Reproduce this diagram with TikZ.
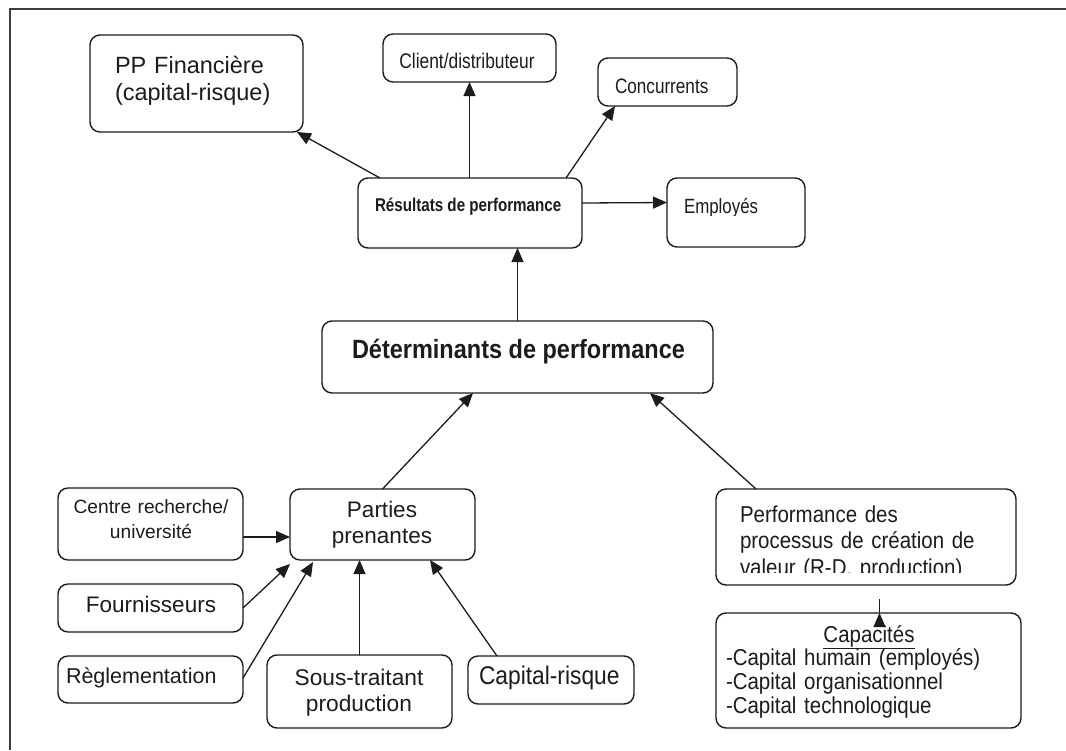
\documentclass[tikz,border=0pt]{standalone}
\usepackage{fontspec}
\setmainfont{Liberation Sans}
\newfontfamily\condfont{Liberation Sans}[FakeStretch=0.82]
\newfontfamily\medfont{Liberation Sans}[FakeStretch=0.89]
\usetikzlibrary{arrows.meta,calc}

\definecolor{ink}{HTML}{1C1C1C}

% rounded box spanning the corners (x1,y1) and (x2,y2), in pixel-like units
\newcommand\bx[5]{\node[box, minimum width={#4-#2}, minimum height={#5-#3}] (#1) at ({(#2+#4)/2},{(#3+#5)/2}) {};}
\newcommand\fs[2]{\fontsize{#1}{#2}\selectfont}

\tikzset{
  box/.style={draw=ink, line width=1.4pt, rounded corners=10pt, inner sep=0pt, outer sep=0pt},
  lbl/.style={inner sep=0pt, outer sep=0pt, text=ink},
  arr/.style={draw=ink, line width=1.3pt, -{Triangle[length=14pt,width=12pt]}},
  thinarr/.style={arr, line width=0.9pt},
  frame/.style={draw=ink!85, line width=1.5pt}
}

\begin{document}
\begin{tikzpicture}[x=1pt,y=-1pt]
\useasboundingbox (0,0) rectangle (1066,750);
\fill[white] (0,0) rectangle (1066,750);

% outer frame (top and left edges)
\coordinate (fa) at (1066,9);
\coordinate (fb) at (10,9);
\coordinate (fc) at (10,750);
\draw[frame] (fa) -- (fb) -- (fc);

% boxes
\bx{pp}{90}{35}{303}{132}
\bx{cl}{383}{34}{556}{82}
\bx{co}{598}{58}{737}{106}
\bx{re}{358}{178}{582}{248}
\bx{em}{667}{178}{805}{247}
\bx{de}{322}{321}{713}{393}
\bx{ce}{58}{488}{243}{560}
\bx{pa}{290}{489}{475}{560}
\bx{fo}{58}{584}{243}{632}
\bx{rg}{58}{656}{243}{703}
\bx{so}{267}{655}{452}{728}
\bx{cr}{468}{656}{634}{704}
\bx{pe}{716}{489}{1016}{585}
\bx{ca}{716}{613}{1021}{728}

% labels
\node[lbl, anchor=base west, text width=200pt, align=left, font=\fs{23.5}{27}] (tpp) at (115,73) {PP Financière\\(capital-risque)};
\node[lbl, anchor=base, font=\condfont\fs{21.2}{24}] (tcl) at (467,68) {Client/distributeur};
\node[lbl, anchor=base west, font=\condfont\fs{20.9}{24}] (tco) at (615,93) {Concurrents};
\node[lbl, anchor=base west, font=\condfont\bfseries\fs{18.5}{22}] (tre) at (375,211) {Résultats de performance};
\begin{scope}
  \clip (667,178) rectangle (805,215.5);
  \node[lbl, anchor=base west, font=\condfont\fs{20.6}{24}] (tem) at (684,213) {Employés};
\end{scope}
\node[lbl, anchor=base west, font=\medfont\bfseries\fs{26.4}{30}] (tde) at (352,358) {Déterminants de performance};
\node[lbl, anchor=base, text width=180pt, align=center, font=\fs{19.2}{25}] (tce) at (151,513) {Centre recherche/\\université};
\node[lbl, anchor=base, text width=180pt, align=center, font=\fs{22.5}{26.5}] (tpa) at (382,517) {Parties\\prenantes};
\node[lbl, anchor=base, font=\fs{22.5}{26}] (tfo) at (151,612) {Fournisseurs};
\node[lbl, anchor=base west, font=\fs{21.5}{26}] (trg) at (66,683) {Règlementation};
\node[lbl, anchor=base, text width=180pt, align=center, font=\fs{22.7}{26.7}] (tso) at (359,685) {Sous-traitant\\production};
\node[lbl, anchor=base west, font=\medfont\fs{25.6}{29}] (tcr) at (479,684) {Capital-risque};
\begin{scope}
  \clip (716,489) rectangle (1016,572);
  \node[lbl, anchor=base west, text width=290pt, align=left, font=\medfont\fs{23}{26.5}] (tpe) at (740,522) {Performance des\\processus de création de\\valeur (R-D, production)};
\end{scope}
\node[lbl, anchor=base, font=\medfont\fs{23}{24}] (tcah) at (869,642) {\underline{Capacités}};
\node[lbl, anchor=base west, text width=290pt, align=left, font=\medfont\fs{23}{24.3}] (tca) at (726,665) {-Capital humain (employés)\\-Capital organisationnel\\-Capital technologique};

% connectors from the performance results
\draw[arr] ($(re.north west)+(22,0)$) -- ($(pp.south east)+(-6,0)$);
\draw[thinarr] (re.north -| cl.south) -- (cl.south);
\draw[arr] ($(re.north east)+(-16,0)$) -- ($(co.south west)+(17,0)$);
\draw[arr] ($(re.east)+(0,-10)$) -- ($(em.west)+(0,-10)$);

% determinants feed the results
\draw[thinarr] (de.north) -- (de.north |- re.south);

% into the determinants
\draw[arr] (pa.north) -- ($(de.south west)+(151,0)$);
\draw[arr] ($(pe.north west)+(40,0)$) -- ($(de.south east)+(-63,0)$);
\draw[thinarr] ($(ca.north)+(11,0)$) -- ($(ca.north)+(11,0)$ |- pe.south);

% stakeholders
\draw[arr] ($(ce.east)+(0,13)$) -- ($(pa.west)+(0,12.5)$);
\draw[arr] (fo.east) -- ($(pa.south west)+(0,4)$);
\draw[arr] ($(rg.east)+(0,-1.5)$) -- ($(pa.south west)+(23,2)$);
\draw[thinarr] (so.north) -- (so.north |- pa.south);
\draw[arr] ($(cr.north west)+(29,0)$) -- ($(pa.south west)+(140,0)$);
\end{tikzpicture}
\end{document}
